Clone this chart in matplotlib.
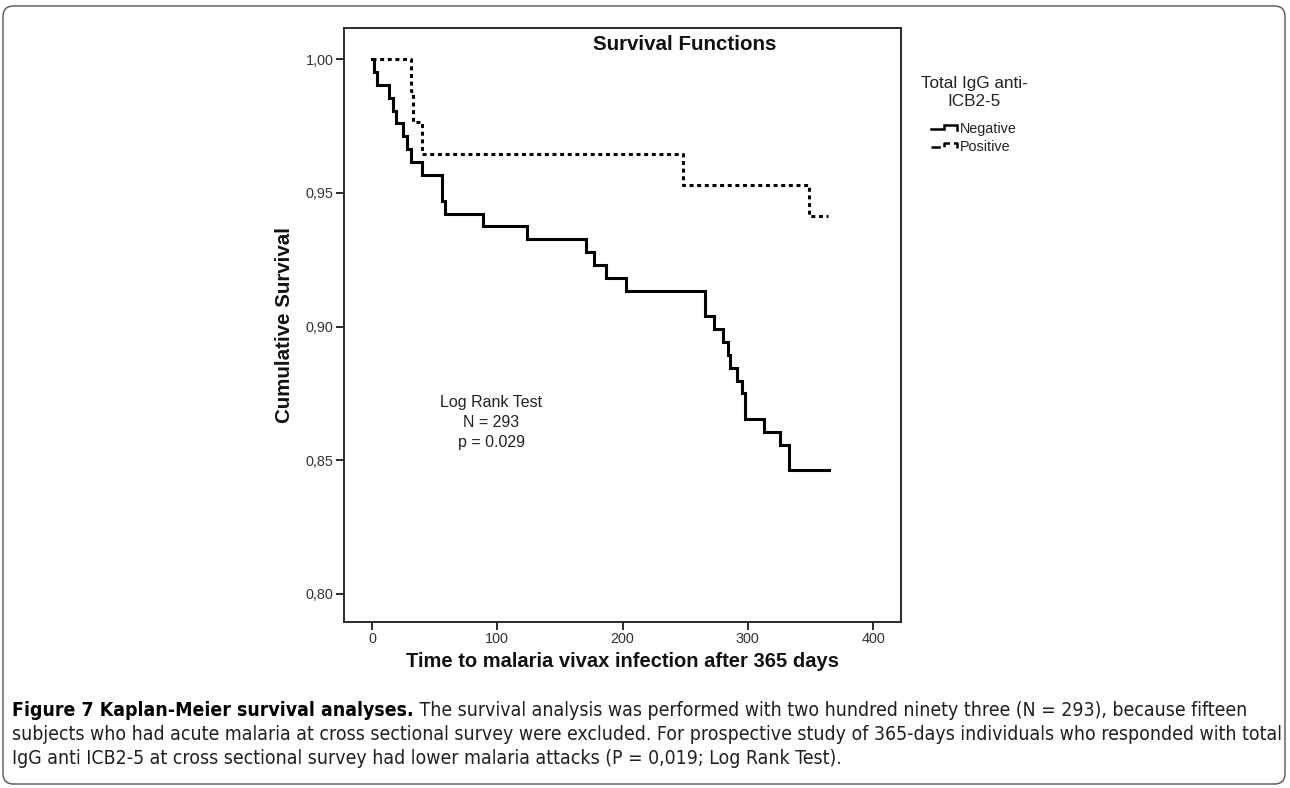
import matplotlib
matplotlib.use("Agg")
import matplotlib.pyplot as plt
from matplotlib import font_manager
from matplotlib.lines import Line2D
from matplotlib.legend_handler import HandlerBase
from matplotlib.patches import FancyBboxPatch

# ---------------- data ----------------
neg_time = [0, 2, 4, 14, 17, 19, 25, 28, 31, 40, 56, 58, 89, 124, 171, 177, 187, 203,
            266, 273, 280, 284, 286, 291, 295, 298, 313, 326, 333, 365]
neg_surv = [1.0, 0.9952, 0.9904, 0.9856, 0.9808, 0.9760, 0.9712, 0.9663, 0.9615, 0.9567,
            0.9471, 0.9423, 0.9375, 0.9327, 0.9279, 0.9231, 0.9183, 0.9135,
            0.9038, 0.8990, 0.8942, 0.8894, 0.8846, 0.8798, 0.8750, 0.8654, 0.8606,
            0.8558, 0.8462, 0.8462]
pos_time = [0, 31, 33, 40, 248, 349, 364]
pos_surv = [1.0, 0.9882, 0.9765, 0.9647, 0.9529, 0.9412, 0.9412]

group_labels = ["Negative", "Positive"]
legend_title = "Total IgG anti-\nICB2-5"
x_ticks = [0, 100, 200, 300, 400]
x_tick_labels = ["0", "100", "200", "300", "400"]
y_ticks = [0.80, 0.85, 0.90, 0.95, 1.00]
y_tick_labels = ["0,80", "0,85", "0,90", "0,95", "1,00"]

title = "Survival Functions"
x_label = "Time to malaria vivax infection after 365 days"
y_label = "Cumulative Survival"
test_lines = ["Log Rank Test", "N = 293", "p = 0.029"]

caption_bold = "Figure 7 Kaplan-Meier survival analyses."
caption_l1 = " The survival analysis was performed with two hundred ninety three (N = 293), because fifteen"
caption_l2 = ("subjects who had acute malaria at cross sectional survey were excluded. For prospective "
              "study of 365-days individuals who responded with total")
caption_l3 = "IgG anti ICB2-5 at cross sectional survey had lower malaria attacks (P = 0,019; Log Rank Test)."

# ---------------- figure ----------------
W, H = 1290, 788
plt.rcParams["font.family"] = ["Liberation Sans", "DejaVu Sans"]
fig = plt.figure(figsize=(W / 100, H / 100), dpi=100)
fig.patch.set_facecolor("white")


def fx(px):
    return px / W


def fy(py):
    return 1 - py / H


ax = fig.add_axes([fx(344), fy(622), (901 - 344) / W, (622 - 28) / H])

line_neg, = ax.step(neg_time, neg_surv, where="post", color="black", lw=2.2,
                    solid_joinstyle="miter", label=group_labels[0])
line_pos, = ax.step(pos_time, pos_surv, where="post", color="black", lw=2.2,
                    ls=(0, (1.3, 1.2)), dash_capstyle="butt", label=group_labels[1])

ax.set_xlim(-22.3, 422.2)
ax.set_ylim(0.7895, 1.0117)
ax.set_xticks(x_ticks)
ax.set_xticklabels(x_tick_labels)
ax.set_yticks(y_ticks)
ax.set_yticklabels(y_tick_labels)

for s in ax.spines.values():
    s.set_linewidth(1.4)
    s.set_color("#2a2a2a")
ax.tick_params(direction="out", length=5.5, width=1.4, color="#2a2a2a",
               labelsize=10.4, labelcolor="#333333", pad=2)


# step-shaped legend icons
class StepHandler(HandlerBase):
    def create_artists(self, legend, orig_handle, xdescent, ydescent, width, height,
                       fontsize, trans):
        xs = [f * width - xdescent for f in (0.0, 0.45, 0.45, 0.92, 0.92)]
        ys = [f * height - ydescent for f in (0.35, 0.35, 0.75, 0.75, 0.25)]
        ln = Line2D(xs, ys, color=orig_handle.get_color(), lw=1.8,
                    ls=orig_handle.get_linestyle(), solid_joinstyle="miter")
        ln.set_transform(trans)
        return [ln]


leg = ax.legend([line_neg, line_pos], group_labels, title=legend_title,
                handler_map={Line2D: StepHandler()},
                loc="upper center", bbox_to_anchor=(fx(974), fy(76)),
                bbox_transform=fig.transFigure, frameon=False,
                fontsize=10.4, title_fontsize=12.3, handlelength=1.95,
                handletextpad=0.05, labelspacing=0.28, borderpad=0, borderaxespad=0)
leg.get_title().set_linespacing(1.27)
leg.get_title().set_multialignment("center")
leg.get_title().set_color("#222222")
leg._legend_box.sep = 9
for t in leg.get_texts():
    t.set_color("#222222")

# titles and labels
fig.text(fx(685), fy(50), title, ha="center", va="baseline", fontsize=14.8,
         fontweight="bold", color="#111111")
fig.text(fx(622), fy(667), x_label, ha="center", va="baseline", fontsize=14.5,
         fontweight="bold", color="#111111")
fig.text(fx(284), fy(325), y_label, ha="center", va="center", rotation=90,
         fontsize=14.8, fontweight="bold", color="#111111")

for txt, base in zip(test_lines, [407, 427, 447]):
    fig.text(fx(491), fy(base), txt, ha="center", va="baseline", fontsize=11.5,
             color="#222222")

# caption font: prefer a condensed face if one is installed
names = {f.name for f in font_manager.fontManager.ttflist}
cap_kw = dict(family=["Liberation Sans", "DejaVu Sans"])
if "Liberation Sans Narrow" in names:
    cap_kw = dict(family=["Liberation Sans Narrow", "DejaVu Sans"])
else:
    cond = [f for f in font_manager.fontManager.ttflist
            if f.name == "DejaVu Sans" and "ondensed" in str(f.fname)]
    if cond:
        cap_kw = dict(family=["DejaVu Sans"], fontstretch="condensed")

r = fig.canvas.get_renderer()
t2 = fig.text(fx(12), fy(740), caption_l2, fontsize=12, va="baseline",
              color="#231f20", **cap_kw)
fs = 12.0
for _ in range(3):
    w2 = t2.get_window_extent(r).width
    fs = fs * 1262 / w2
    t2.set_fontsize(fs)
tb = fig.text(fx(12), fy(716), caption_bold, fontsize=fs, fontweight="bold",
              va="baseline", color="#000000", **cap_kw)
bb = tb.get_window_extent(r)
fig.text(bb.x1 / W, fy(716), caption_l1, fontsize=fs, va="baseline",
         color="#231f20", **cap_kw)
fig.text(fx(12), fy(764), caption_l3, fontsize=fs, va="baseline",
         color="#231f20", **cap_kw)

# outer rounded frame
frame = FancyBboxPatch((fx(3), fy(784)), fx(1282), (784 - 6) / H,
                       boxstyle="round,pad=0,rounding_size=0.008",
                       transform=fig.transFigure, fill=False, ec="#555555", lw=1.0,
                       mutation_aspect=W / H)
fig.patches.append(frame)

fig.savefig("out.png", dpi=100, facecolor="white")
